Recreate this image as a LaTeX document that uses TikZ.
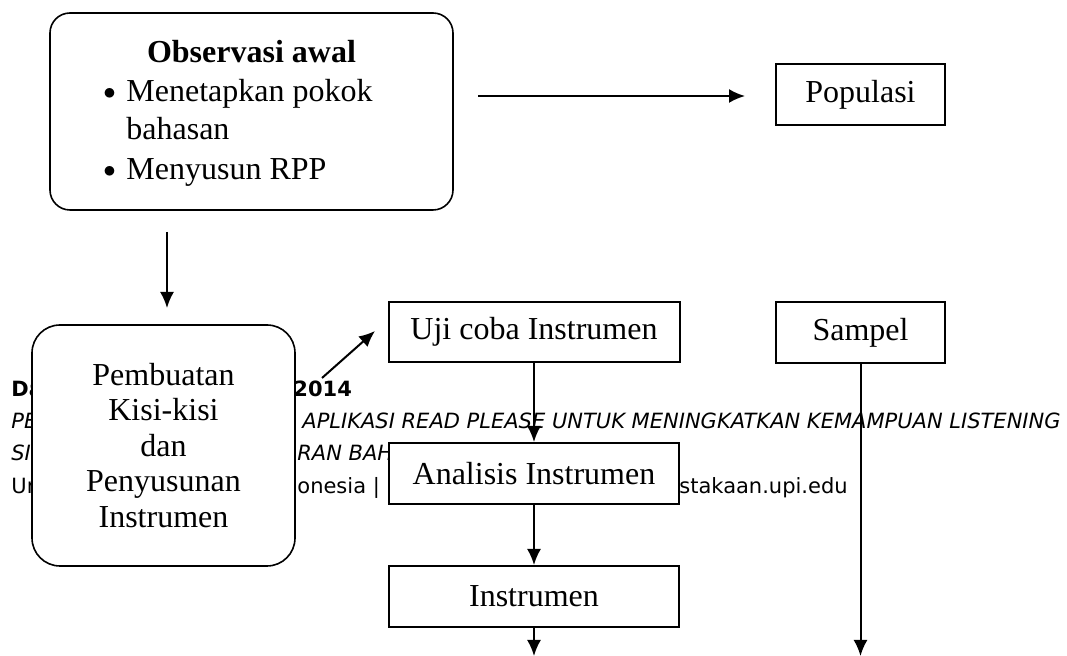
\documentclass[tikz,border=0pt]{standalone}
\usepackage{fontspec}
\setmainfont{Liberation Serif}
\newfontfamily\footfont{DejaVu Sans}
\usetikzlibrary{arrows.meta}
\tikzset{
      box/.style={draw=black, line width=1pt, fill=white, inner sep=0pt,
            font=\fontsize{16}{18}\selectfont},
      rbox/.style={draw=black, line width=0.8pt, fill=white, inner sep=0pt},
      flow/.style={draw=black, line width=1pt, -{Latex[length=8pt,width=7pt]}},
      txt/.style={inner sep=0pt, anchor=base west, font=\fontsize{16}{18}\selectfont},
      foot/.style={inner sep=0pt, anchor=base west, font=\footfont\fontsize{10.5}{12}\selectfont},
}
\newcommand{\blt}{\makebox[11.5pt][l]{\raisebox{1pt}{\scalebox{0.72}{$\bullet$}}}}

\begin{document}
\begin{tikzpicture}[x=0.5pt, y=-0.5pt]
        \useasboundingbox (0,0) rectangle (1067,656);

        % page footer behind the chart
        \node[foot] (da) at (11,397) {\bfseries Da};
        \node[foot] (yr) at (293,397) {\bfseries 2014};
        \node[foot] (pe) at (11,429) {\itshape PE};
        \node[foot] (apl) at (302,429) {\itshape APLIKASI READ PLEASE UNTUK MENINGKATKAN KEMAMPUAN LISTENING};
        \node[foot] (si) at (11,461) {\itshape SI};
        \node[foot] (ran) at (297,461) {\itshape RAN BAH};
        \node[foot] (un) at (11,494) {Un};
        \node[foot] (ones) at (297,494) {onesia |};
        \node[foot] (stak) at (679,494) {stakaan.upi.edu};

        % Draw the boxes
        \node[rbox, rounded corners=10pt, minimum width=201.5pt, minimum height=98.5pt] (obs) at (251.5,111.5) {};
        \node[txt, anchor=base, font=\fontsize{16}{18}\selectfont\bfseries] (obst) at (251.5,63) {Observasi awal};
        \node[txt] (obs1) at (103,102) {\blt Menetapkan pokok};
        \node[txt] (obs2) at (126,140) {bahasan};
        \node[txt] (obs3) at (103,180) {\blt Menyusun RPP};

        \node[rbox, rounded corners=14pt, minimum width=131.5pt, minimum height=120.5pt,
              align=center, font=\fontsize{16}{17.75}\selectfont] (pem) at (163.5,445.5)
              {Pembuatan\\Kisi-kisi\\dan\\Penyusunan\\Instrumen};

        \node[box, minimum width=84.5pt, minimum height=30.5pt] (pop) at (860.5,95) {Populasi};
        \node[box, minimum width=84.5pt, minimum height=30.5pt] (sam) at (860.5,332.5) {Sampel};
        \node[box, minimum width=145.5pt, minimum height=30pt] (uji) at (534,332) {Uji coba Instrumen};
        \node[box, minimum width=145pt, minimum height=30.5pt] (ana) at (534,473.5) {Analisis Instrumen};
        \node[box, minimum width=145pt, minimum height=30.5pt] (ins) at (534,596.5) {Instrumen};

        % Draw the arrows
        \coordinate (o1) at (478,96);
        \coordinate (o2) at (745,96);
        \coordinate (d1) at (167,232);
        \coordinate (d2) at (167,308);
        \coordinate (g1) at (322,378);
        \coordinate (g2) at (375,331);
        \coordinate (e1) at (534,656);
        \coordinate (e2) at (860.5,656);

        \draw[flow] (o1) -- (o2);
        \draw[flow] (d1) -- (d2);
        \draw[flow] (g1) -- (g2);
        \draw[flow] (uji.south) -- (ana.north);
        \draw[flow] (ana.south) -- (ins.north);
        \draw[flow] (ins.south) -- (e1);
        \draw[flow] (sam.south) -- (e2);

\end{tikzpicture}
\end{document}
